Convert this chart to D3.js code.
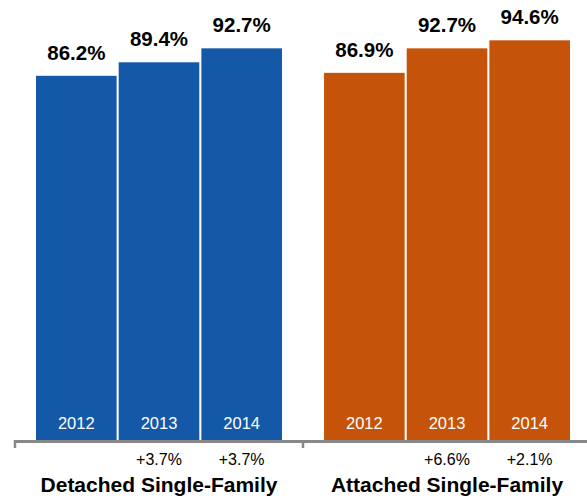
<!DOCTYPE html>
<html>
<head>
<meta charset="utf-8">
<script src="https://cdn.jsdelivr.net/npm/d3@7"></script>
<style>
  html, body { margin: 0; padding: 0; background: #fff; }
  svg { display: block; font-family: "Liberation Sans", Arial, Helvetica, sans-serif; }
</style>
</head>
<body>
<svg id="chart" width="587" height="500"></svg>
<script>
// Occupancy rate by housing type and year
const groups = ["Detached Single-Family", "Attached Single-Family"];
const years = ["2012", "2013", "2014"];
const detachedValues = [86.2, 89.4, 92.7];
const attachedValues = [86.9, 92.7, 94.6];
const detachedChanges = ["", "+3.7%", "+3.7%"];
const attachedChanges = ["", "+6.6%", "+2.1%"];
const groupColors = ["#1459A8", "#C55309"];

const seriesValues = [detachedValues, attachedValues];
const seriesChanges = [detachedChanges, attachedChanges];

const svg = d3.select("#chart");
const baseline = 440;

const y = d3.scaleLinear().domain([0, 100]).range([baseline, 17.5]);

const x0 = d3.scaleBand()
  .domain(groups)
  .range([36, 570])
  .paddingInner(0.146)
  .paddingOuter(0);

const x1 = d3.scaleBand()
  .domain(years)
  .range([0, x0.bandwidth()])
  .paddingInner(0.025)
  .paddingOuter(0);

const data = groups.map((g, gi) => ({
  group: g,
  color: groupColors[gi],
  bars: years.map((yr, i) => ({
    year: yr,
    value: seriesValues[gi][i],
    change: seriesChanges[gi][i]
  }))
}));

const groupSel = svg.selectAll("g.group")
  .data(data)
  .join("g")
  .attr("class", "group")
  .attr("transform", d => `translate(${x0(d.group)},0)`);

// bars
groupSel.selectAll("rect")
  .data(d => d.bars.map(b => ({ ...b, color: d.color })))
  .join("rect")
  .attr("x", d => x1(d.year))
  .attr("y", d => y(d.value))
  .attr("width", x1.bandwidth())
  .attr("height", d => baseline - y(d.value))
  .attr("fill", d => d.color);

// value labels above bars
groupSel.selectAll("text.value")
  .data(d => d.bars)
  .join("text")
  .attr("class", "value")
  .attr("x", d => x1(d.year) + x1.bandwidth() / 2)
  .attr("y", d => y(d.value) - 16)
  .attr("text-anchor", "middle")
  .attr("font-size", 20.5)
  .attr("font-weight", "bold")
  .attr("fill", "#000")
  .text(d => d.value.toFixed(1) + "%");

// year labels inside bars
groupSel.selectAll("text.year")
  .data(d => d.bars)
  .join("text")
  .attr("class", "year")
  .attr("x", d => x1(d.year) + x1.bandwidth() / 2)
  .attr("y", 429)
  .attr("text-anchor", "middle")
  .attr("font-size", 16.5)
  .attr("fill", "#fff")
  .text(d => d.year);

// year-over-year change labels
groupSel.selectAll("text.change")
  .data(d => d.bars.filter(b => b.change))
  .join("text")
  .attr("class", "change")
  .attr("x", d => x1(d.year) + x1.bandwidth() / 2)
  .attr("y", 465)
  .attr("text-anchor", "middle")
  .attr("font-size", 16)
  .attr("fill", "#000")
  .text(d => d.change);

// group titles
groupSel.append("text")
  .attr("x", x0.bandwidth() / 2)
  .attr("y", 492)
  .attr("text-anchor", "middle")
  .attr("font-size", 21)
  .attr("font-weight", "bold")
  .attr("fill", "#000")
  .text(d => d.group);

// baseline axis with group dividers
const half = x0.step() * x0.paddingInner() / 2;
const tickXs = groups.map(g => x0(g) - half).concat([x0(groups[groups.length - 1]) + x0.bandwidth() + half]);

svg.append("line")
  .attr("x1", tickXs[0])
  .attr("x2", 587)
  .attr("y1", baseline + 1.5)
  .attr("y2", baseline + 1.5)
  .attr("stroke", "#888")
  .attr("stroke-width", 3);

svg.selectAll("line.tick")
  .data(tickXs)
  .join("line")
  .attr("class", "tick")
  .attr("x1", d => d)
  .attr("x2", d => d)
  .attr("y1", baseline)
  .attr("y2", baseline + 8)
  .attr("stroke", "#888")
  .attr("stroke-width", 2.5);
</script>
</body>
</html>
